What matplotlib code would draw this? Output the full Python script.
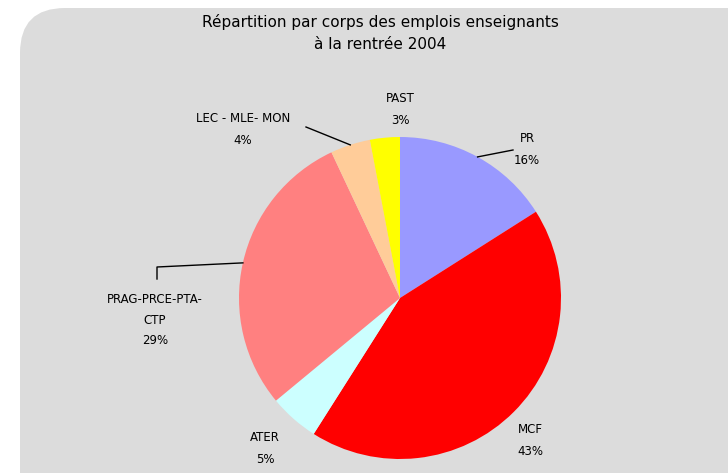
import numpy as np
import matplotlib.pyplot as plt
from matplotlib.patches import FancyBboxPatch

# data
categories = ['PR', 'MCF', 'ATER', 'PRAG-PRCE-PTA-\nCTP', 'LEC - MLE- MON', 'PAST']
shares = [16, 43, 5, 29, 4, 3]
colors = ['#9999FF', '#FF0000', '#CCFFFF', '#FF8080', '#FFCC99', '#FFFF00']
title = 'Répartition par corps des emplois enseignants\nà la rentrée 2004'

W, H = 728, 473
fig = plt.figure(figsize=(W / 100, H / 100), dpi=100)
ax = fig.add_axes([0, 0, 1, 1])

# grey rounded panel
bg = FancyBboxPatch((20, -60), 760, 525, boxstyle='round,pad=0,rounding_size=45',
                    fc='#DCDCDC', ec='none', zorder=0)
ax.add_patch(bg)

cx, cy, r = 400, H - 298, 161
wedges, _ = ax.pie(shares, colors=colors, startangle=90, counterclock=False,
                   center=(cx, cy), radius=r, frame=True,
                   wedgeprops=dict(linewidth=0))
ax.set_xlim(0, W)
ax.set_ylim(0, H)
ax.set_aspect('equal')
ax.axis('off')

fs = 8.5
ax.text(380, H - 33, title, ha='center', va='center', fontsize=11, linespacing=1.6)

# label positions (text centre) and optional leader elbow
label_pos = [(527, H - 150), (530, H - 440), (265, H - 448), (155, H - 320),
             (243, H - 130), (400, H - 109)]
leaders = {0: [(513, H - 150)], 3: [(157, H - 279), (157, H - 267)],
           4: [(306, H - 127)]}

for i, (w, lab, val) in enumerate(zip(wedges, categories, shares)):
    x, y = label_pos[i]
    ax.text(x, y, f'{lab}\n{val}%', ha='center', va='center', fontsize=fs,
            linespacing=1.9 if i != 3 else 1.75)
    if i in leaders:
        ang = np.deg2rad((w.theta1 + w.theta2) / 2)
        px, py = cx + r * np.cos(ang), cy + r * np.sin(ang)
        pts = leaders[i] + [(px, py)]
        xs, ys = zip(*pts)
        ax.plot(xs, ys, color='black', lw=1)

fig.savefig('out.png', dpi=100, facecolor='white')
